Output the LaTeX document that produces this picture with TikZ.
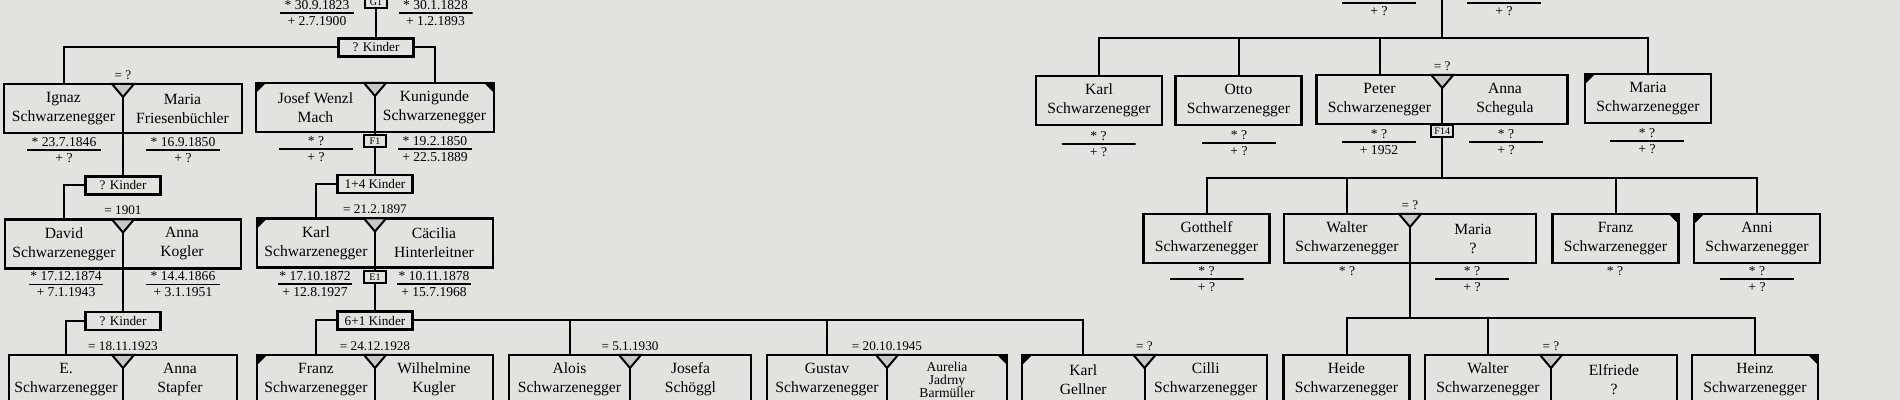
\documentclass[tikz,border=0pt]{standalone}
\usepackage{fontspec}
\setmainfont{Liberation Serif}
\usetikzlibrary{positioning}

\definecolor{paper}{RGB}{226,226,223}
\newcommand{\namefont}{\fontsize{7.8}{9.5}\selectfont}
\newcommand{\datefont}{\fontsize{6.8}{8}\selectfont}
\newcommand{\kidsfont}{\fontsize{6.6}{8}\selectfont}
\newcommand{\famfont}{\fontsize{5}{6}\selectfont}
\newcommand{\wedmark}[1]{\filldraw[marker] ([xshift=-5.5pt]#1.north east) -- ([yshift=-6.5pt]#1.north east) -- ([xshift=5.5pt]#1.north east) -- cycle;}
\newcommand{\markNW}[1]{\fill (#1.north west) -- ([xshift=5pt]#1.north west) -- ([yshift=-5pt]#1.north west) -- cycle;}
\newcommand{\markNE}[1]{\fill (#1.north east) -- ([xshift=-5pt]#1.north east) -- ([yshift=-5pt]#1.north east) -- cycle;}

\begin{document}
\begin{tikzpicture}[x=0.5pt,y=-0.5pt,
	half/.style={minimum height=24.5pt,inner sep=0pt,outer sep=0pt,align=center,font=\namefont},
	single/.style={half,draw,fill=paper,line width=1.4pt,minimum width=63pt},
	frame/.style={line width=1.4pt},
	link/.style={line width=1pt},
	kids/.style={draw,fill=paper,line width=1.2pt,font=\kidsfont,minimum width=37.5pt,minimum height=9pt,inner sep=0pt,outer sep=0pt},
	famno/.style={draw,fill=paper,line width=1pt,font=\famfont,minimum width=11pt,minimum height=6pt,inner sep=0.5pt,outer sep=0pt},
	life/.style={align=center,font=\datefont,minimum width=37pt,inner sep=0pt,
		path picture={\draw[line width=0.6pt] (path picture bounding box.west) -- (path picture bounding box.east);}},
	born/.style={font=\datefont,inner sep=0pt},
	wed/.style={font=\kidsfont,inner sep=0pt},
	marker/.style={line width=1pt,fill=black!22}]
	\useasboundingbox (0,0) rectangle (1900,400);
	\clip (0,0) rectangle (1900,400);
	\fill[paper] (0,0) rectangle (1900,400);

	% linke Seite
	\node[famno] (g1) at (376,2) {G1};
	\node[life] (l1) at (317,13) {* 30.9.1823\\+ 2.7.1900};
	\node[life] (l2) at (435.5,13) {* 30.1.1828\\+ 1.2.1893};
	\node[kids] (k0) at (376,47.5) {? Kinder};

	\node[half,minimum width=59.5pt] (ignaz) at (63.5,108.5) {Ignaz\\Schwarzenegger};
	\node[half,minimum width=59.5pt,right=0pt of ignaz] (mariaf) {Maria\\Friesenbüchler};
	\draw[frame] (ignaz.north west) rectangle (mariaf.south east);
	\node[wed,above=2pt of ignaz.north east] (w1) {= ?};
	\node[life] (l3) at (64,150) {* 23.7.1846\\+ ?};
	\node[life] (l4) at (183,150) {* 16.9.1850\\+ ?};
	\node[kids] (k1) at (123,185.5) {? Kinder};

	\node[half,minimum width=59.5pt] (josef) at (315.5,107.5) {Josef Wenzl\\Mach};
	\node[half,minimum width=59.5pt,right=0pt of josef] (kunigunde) {Kunigunde\\Schwarzenegger};
	\draw[frame] (josef.north west) rectangle (kunigunde.south east);
	\markNW{josef} \markNE{kunigunde}
	\node[famno] (f1) at (375,141.5) {F1};
	\node[life] (l5) at (316,149) {* ?\\+ ?};
	\node[life] (l6) at (435,149) {* 19.2.1850\\+ 22.5.1889};
	\node[kids] (k3) at (375,184) {1+4 Kinder};

	\node[half,minimum width=59pt] (david) at (64,244) {David\\Schwarzenegger};
	\node[half,minimum width=59pt,right=0pt of david] (annak) {Anna\\Kogler};
	\draw[frame] (david.north west) rectangle (annak.south east);
	\node[wed,above=2pt of david.north east] (w2) {= 1901};
	\node[life] (l7) at (66,284.5) {* 17.12.1874\\+ 7.1.1943};
	\node[life] (l8) at (183,284.5) {* 14.4.1866\\+ 3.1.1951};
	\node[kids] (k2) at (123,321) {? Kinder};

	\node[half,minimum width=59pt] (karl) at (316,243) {Karl\\Schwarzenegger};
	\node[half,minimum width=59pt,right=0pt of karl] (caecilia) {Cäcilia\\Hinterleitner};
	\draw[frame] (karl.north west) rectangle (caecilia.south east);
	\markNW{karl}
	\node[wed,above=2pt of karl.north east] (w3) {= 21.2.1897};
	\node[famno] (e1) at (375,277) {E1};
	\node[life] (l9) at (315,284) {* 17.10.1872\\+ 12.8.1927};
	\node[life] (l10) at (434,284) {* 10.11.1878\\+ 15.7.1968};
	\node[kids] (k4) at (375,320.5) {6+1 Kinder};

	% unterste Reihe
	\node[half,minimum width=57pt] (e) at (66,379.5) {E.\\Schwarzenegger};
	\node[half,minimum width=57pt,right=0pt of e] (annas) {Anna\\Stapfer};
	\draw[frame] (e.north west) rectangle (annas.south east);
	\node[wed,above=2pt of e.north east] (w4) {= 18.11.1923};

	\node[half,minimum width=59pt] (franz) at (316,379.5) {Franz\\Schwarzenegger};
	\node[half,minimum width=59pt,right=0pt of franz] (wilhelmine) {Wilhelmine\\Kugler};
	\draw[frame] (franz.north west) rectangle (wilhelmine.south east);
	\markNW{franz}
	\node[wed,above=2pt of franz.north east] (w5) {= 24.12.1928};

	\node[half,minimum width=60.5pt] (alois) at (569.5,379.5) {Alois\\Schwarzenegger};
	\node[half,minimum width=60.5pt,right=0pt of alois] (josefa) {Josefa\\Schöggl};
	\draw[frame] (alois.north west) rectangle (josefa.south east);
	\node[wed,above=2pt of alois.north east] (w6) {= 5.1.1930};

	\node[half,minimum width=60pt] (gustav) at (827,379.5) {Gustav\\Schwarzenegger};
	\node[half,minimum width=60pt,right=0pt of gustav,font={\fontsize{6.8}{6.5}\selectfont}] (aurelia) {Aurelia\\Jadrny\\Barmüller};
	\draw[frame] (gustav.north west) rectangle (aurelia.south east);
	\markNE{aurelia}
	\node[wed,above=2pt of gustav.north east] (w7) {= 20.10.1945};

	\node[half,minimum width=61.25pt] (karlg) at (1083.25,379.5) {Karl\\Gellner};
	\node[half,minimum width=61.25pt,right=0pt of karlg] (cilli) {Cilli\\Schwarzenegger};
	\draw[frame] (karlg.north west) rectangle (cilli.south east);
	\markNW{karlg}
	\node[wed,above=2pt of karlg.north east] (w8) {= ?};

	\node[single] (heide) at (1346.5,379.5) {Heide\\Schwarzenegger};

	\node[half,minimum width=63pt] (walter2) at (1488,379.5) {Walter\\Schwarzenegger};
	\node[half,minimum width=63pt,right=0pt of walter2] (elfriede) {Elfriede\\?};
	\draw[frame] (walter2.north west) rectangle (elfriede.south east);
	\node[wed,above=2pt of walter2.north east] (w9) {= ?};

	\node[single] (heinz) at (1755,379.5) {Heinz\\Schwarzenegger};
	\markNE{heinz}

	% rechte Seite
	\node[life] (l11) at (1379,3) {\phantom{* ?}\\+ ?};
	\node[life] (l12) at (1504,3) {\phantom{* ?}\\+ ?};
	\coordinate (j0) at (1442.25,-10);
	\coordinate (j1) at (1442.25,38);

	\node[single] (karlr) at (1099,100.5) {Karl\\Schwarzenegger};
	\node[single] (otto) at (1238.5,100.5) {Otto\\Schwarzenegger};
	\node[half,minimum width=62.75pt] (peter) at (1379.5,99.5) {Peter\\Schwarzenegger};
	\node[half,minimum width=62.75pt,right=0pt of peter] (annasch) {Anna\\Schegula};
	\draw[frame] (peter.north west) rectangle (annasch.south east);
	\node[wed,above=2pt of peter.north east] (w10) {= ?};
	\node[single] (mariar) at (1648,98.5) {Maria\\Schwarzenegger};
	\markNW{mariar}
	\node[life] (l13) at (1098.5,144) {* ?\\+ ?};
	\node[life] (l14) at (1239,143) {* ?\\+ ?};
	\node[life] (l15) at (1379,142) {* ?\\+ 1952};
	\node[famno] (f14) at (1442.25,131.5) {F14};
	\node[life] (l16) at (1506,142) {* ?\\+ ?};
	\node[life] (l17) at (1647,141) {* ?\\+ ?};
	\coordinate (j2) at (1442.25,178);

	\node[single] (gotthelf) at (1206.5,238.5) {Gotthelf\\Schwarzenegger};
	\node[half,minimum width=63pt] (walter) at (1347,238.5) {Walter\\Schwarzenegger};
	\node[half,minimum width=63pt,right=0pt of walter] (mariaq) {Maria\\?};
	\draw[frame] (walter.north west) rectangle (mariaq.south east);
	\node[wed,above=2pt of walter.north east] (w11) {= ?};
	\node[single] (franzr) at (1615.5,238.5) {Franz\\Schwarzenegger};
	\markNE{franzr}
	\node[single] (anni) at (1757,238.5) {Anni\\Schwarzenegger};
	\markNW{anni}
	\node[life] (l18) at (1206.5,279) {* ?\\+ ?};
	\node[born] (b1) at (1347,271) {* ?};
	\node[life] (l19) at (1472,279) {* ?\\+ ?};
	\node[born] (b2) at (1615,271) {* ?};
	\node[life] (l20) at (1757,279) {* ?\\+ ?};
	\coordinate (j3) at (1410,318);

	% Linien
	\draw[link] (g1.south) -- (k0.north);
	\draw[link] (k0.west) -| (ignaz.north);
	\draw[link] (k0.east) -| (kunigunde.north);
	\draw[link] (ignaz.north east) -- (k1.north);
	\draw[link] (k1.west) -| (david.north);
	\draw[link] (david.north east) -- (k2.north);
	\draw[link] (k2.west) -| (e.north);
	\draw[link] (e.north east) -- (e.south east);
	\draw[link] (josef.north east) -- (f1.north);
	\draw[link] (f1.south) -- (k3.north);
	\draw[link] (k3.west) -| (karl.north);
	\draw[link] (karl.north east) -- (e1.north);
	\draw[link] (e1.south) -- (k4.north);
	\draw[link] (k4.west) -| (franz.north);
	\draw[link] (franz.north east) -- (franz.south east);
	\draw[link] (k4.east) -| (karlg.north);
	\draw[link] (alois.north) -- (alois.north |- k4.east);
	\draw[link] (gustav.north) -- (gustav.north |- k4.east);
	\draw[link] (alois.north east) -- (alois.south east);
	\draw[link] (gustav.north east) -- (gustav.south east);
	\draw[link] (karlg.north east) -- (karlg.south east);
	\draw[link] (walter2.north east) -- (walter2.south east);

	\draw[link] (j0) -- (j1);
	\draw[link] (karlr.north) |- (j1) -| (mariar.north);
	\draw[link] (otto.north) -- (otto.north |- j1);
	\draw[link] (peter.north) -- (peter.north |- j1);
	\draw[link] (peter.north east) -- (f14.north);
	\draw[link] (f14.south) -- (j2);
	\draw[link] (gotthelf.north) |- (j2) -| (anni.north);
	\draw[link] (walter.north) -- (walter.north |- j2);
	\draw[link] (franzr.north) -- (franzr.north |- j2);
	\draw[link] (walter.north east) -- (j3);
	\draw[link] (heide.north) |- (j3) -| (heinz.north);
	\draw[link] (walter2.north) -- (walter2.north |- j3);

	\wedmark{ignaz} \wedmark{josef} \wedmark{david} \wedmark{karl}
	\wedmark{e} \wedmark{franz} \wedmark{alois} \wedmark{gustav}
	\wedmark{karlg} \wedmark{walter2} \wedmark{peter} \wedmark{walter}
\end{tikzpicture}
\end{document}
